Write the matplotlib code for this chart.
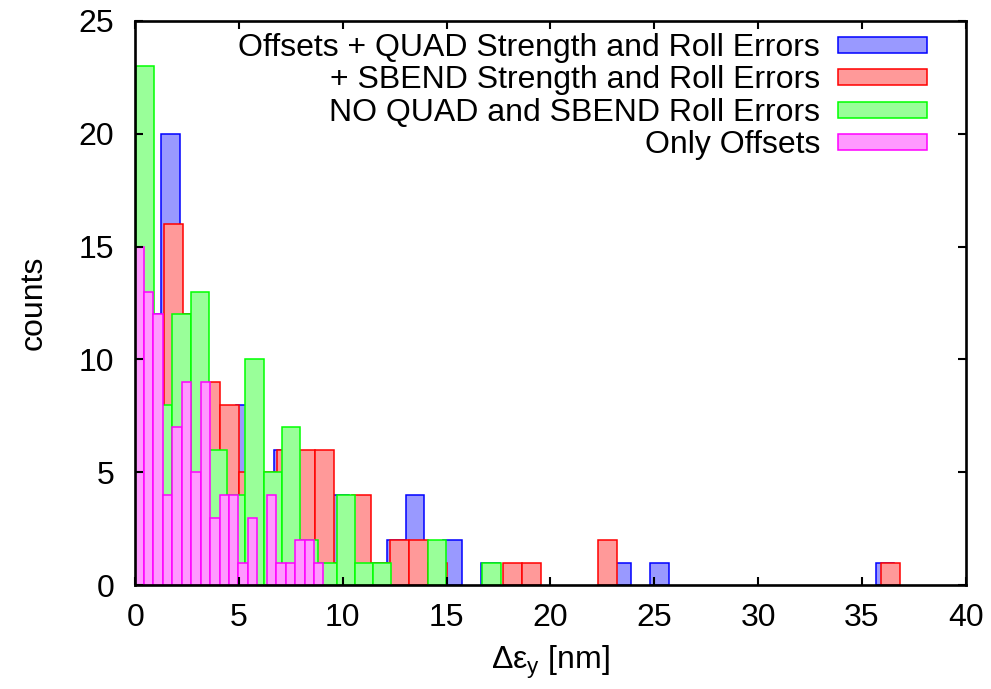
import numpy as np
import matplotlib
matplotlib.use("Agg")
import matplotlib.pyplot as plt
from matplotlib.patches import Rectangle

plt.rcParams['font.family'] = ['Liberation Sans', 'DejaVu Sans']
plt.rcParams['mathtext.fontset'] = 'custom'
plt.rcParams['mathtext.rm'] = 'Liberation Sans'
plt.rcParams['font.size'] = 23

# histogram bins: first left edge, bin width, counts per bin
blue_start, blue_width = 0.347, 0.9055
blue_counts = [12, 20, 12, 8, 6, 8, 4, 6, 3, 2,
               4, 2, 1, 2, 4, 0, 2, 0, 1, 0,
               0, 0, 0, 0, 0, 1, 0, 1, 0, 0,
               0, 0, 0, 0, 0, 0, 0, 0, 0, 1]

red_start, red_width = 0.459, 0.9093
red_counts = [8, 16, 12, 9, 8, 5, 5, 6, 6, 6,
              1, 4, 1, 2, 2, 1, 0, 0, 0, 1,
              1, 0, 0, 0, 2, 0, 0, 0, 0, 0,
              0, 0, 0, 0, 0, 0, 0, 0, 0, 1]

green_start, green_width = 0.037, 0.878
green_counts = [23, 8, 12, 13, 6, 4, 10, 5, 7, 2,
                1, 4, 1, 1, 0, 0, 2, 0, 0, 1]

magenta_start, magenta_width = -0.036, 0.455
magenta_counts = [15, 13, 12, 4, 7, 9, 5, 9, 3, 4,
                  4, 1, 3, 0, 4, 1, 1, 2, 2, 1]

labels = ["Offsets + QUAD Strength and Roll Errors",
          "+ SBEND Strength and Roll Errors",
          "NO QUAD and SBEND Roll Errors",
          "Only Offsets"]

series = [
    (blue_start, blue_width, blue_counts, '#9999ff', '#0000ff'),
    (red_start, red_width, red_counts, '#ff9999', '#ff0000'),
    (green_start, green_width, green_counts, '#99ff99', '#00ff00'),
    (magenta_start, magenta_width, magenta_counts, '#ff99ff', '#ff00ff'),
]

fig = plt.figure(figsize=(9.91, 6.89), dpi=100)
ax = fig.add_axes([0.1365, 0.1505, 0.8379, 0.8195])

for start, width, counts, fc, ec in series:
    counts = np.array(counts)
    left = start + width * np.arange(len(counts))
    keep = counts > 0
    ax.bar(left[keep], counts[keep], width=width, align='edge',
           facecolor=fc, edgecolor=ec, linewidth=1.1)

ax.set_xlim(0, 40)
ax.set_ylim(0, 25)
ax.set_xticks(np.arange(0, 41, 5))
ax.set_yticks(np.arange(0, 26, 5))
ax.tick_params(direction='in', length=6, width=1.5, top=True, right=True)
ax.tick_params(axis='x', pad=13)
ax.tick_params(axis='y', pad=15)
for s in ax.spines.values():
    s.set_linewidth(1.9)

ax.set_xlabel(r'Δε$_{\mathrm{y}}$ [nm]', labelpad=7)
ax.set_ylabel('counts', labelpad=22)

# key, drawn like gnuplot: text right-aligned, sample box on the right
for i, (lab, (_, _, _, fc, ec)) in enumerate(zip(labels, series)):
    yc = 0.957 - 0.0573 * i
    ax.text(0.8245, yc - 0.0195, lab, ha='right', va='baseline',
            transform=ax.transAxes)
    ax.add_patch(Rectangle((0.846, yc - 0.0142), 0.1073, 0.0284,
                           transform=ax.transAxes, facecolor=fc,
                           edgecolor=ec, linewidth=1.1, clip_on=False))

fig.savefig('out.png', dpi=100)
